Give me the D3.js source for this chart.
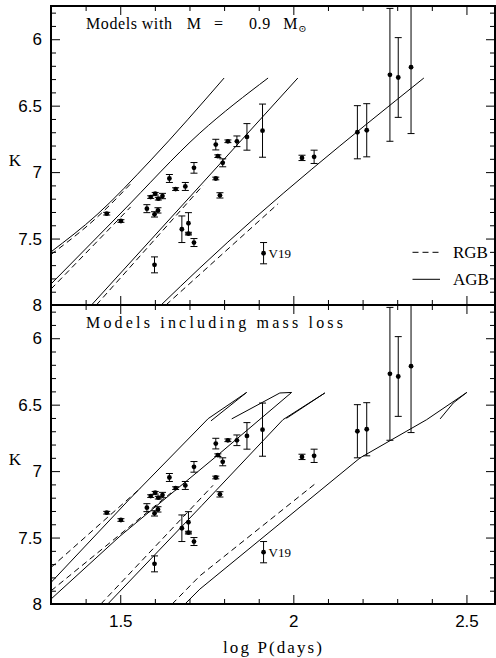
<!DOCTYPE html>
<html>
<head>
<meta charset="utf-8">
<script src="https://d3js.org/d3.v7.min.js"></script>
<style>
  body { margin: 0; background: #fff; }
  .frame { fill: none; stroke: #000; stroke-width: 2; }
  .agb { fill: none; stroke: #000; stroke-width: 1; }
  .rgb { fill: none; stroke: #000; stroke-width: 1; stroke-dasharray: 6,4; }
  .err { stroke: #000; stroke-width: 1; }
  .serif { font-family: "Liberation Serif", "DejaVu Serif", serif; fill: #000; }
</style>
</head>
<body>
<script>
(function(){

  //star data: log P, K and error in K
  var logP = [1.461, 1.502, 1.577, 1.588, 1.601, 1.599, 1.609, 1.610, 1.622, 1.642, 1.660, 1.688,
              1.713, 1.678, 1.697, 1.697, 1.713, 1.599, 1.776, 1.811, 1.837, 1.782, 1.796, 1.776,
              1.788, 1.866, 1.911, 2.025, 2.060, 2.185, 2.212, 2.279, 2.303, 2.340, 1.914];
  var kMag = [7.313, 7.368, 7.275, 7.188, 7.163, 7.318, 7.288, 7.200, 7.180, 7.048, 7.128, 7.108,
              6.968, 7.430, 7.385, 7.463, 7.530, 7.698, 6.793, 6.768, 6.768, 6.880, 6.930, 7.048,
              7.175, 6.735, 6.688, 6.893, 6.885, 6.700, 6.685, 6.268, 6.288, 6.210, 7.610];
  var kErr = [0.01, 0.01, 0.03, 0.01, 0.01, 0.02, 0.02, 0.01, 0.02, 0.03, 0.01, 0.03,
              0.04, 0.10, 0.08, 0.01, 0.03, 0.06, 0.04, 0.01, 0.04, 0.01, 0.03, 0.01,
              0.02, 0.10, 0.20, 0.02, 0.05, 0.20, 0.20, 0.50, 0.30, 0.50, 0.08];
  var starNames = {34: "V19"};

  //model tracks, constant mass (top panel)
  var agbTop = [
    [[1.300, 7.600], [1.433, 7.320], [1.589, 6.908], [1.800, 6.292]],
    [[1.300, 7.842], [1.502, 7.308], [1.730, 6.706], [1.927, 6.292]],
    [[1.417, 8.000], [1.730, 7.104], [2.013, 6.292]],
    [[1.618, 8.000], [1.730, 7.721], [2.377, 6.292]]
  ];
  var rgbTop = [
    [[1.300, 7.620], [1.433, 7.340], [1.535, 7.075]],
    [[1.300, 7.880], [1.530, 7.262]],
    [[1.431, 8.000], [1.739, 7.100]],
    [[1.632, 8.000], [1.956, 7.238]]
  ];

  //model tracks with mass loss (bottom panel)
  var agbBottom = [
    [[1.300, 7.838], [1.526, 7.213], [1.754, 6.605], [1.865, 6.408], [1.762, 6.622]],
    [[1.300, 7.963], [1.499, 7.490], [1.781, 6.881], [1.995, 6.408], [1.961, 6.412], [1.822, 6.607]],
    [[1.464, 8.000], [1.736, 7.258], [1.970, 6.613], [2.091, 6.412], [1.980, 6.603]],
    [[1.687, 8.000], [1.730, 7.888], [2.193, 6.900], [2.385, 6.613], [2.501, 6.408], [2.462, 6.487], [2.424, 6.607]]
  ];
  var rgbBottom = [
    [[1.300, 7.725], [1.560, 7.125]],
    [[1.300, 7.901], [1.647, 7.163]],
    [[1.444, 8.000], [1.768, 7.107]],
    [[1.650, 8.000], [1.730, 7.788], [2.067, 7.087]]
  ];

  var xMajor = [1.5, 2, 2.5];
  var yMajor = [6, 6.5, 7, 7.5, 8];
  var panelTitles = ["Models including mass loss"];
  var legendLabels = ["RGB", "AGB"];

  //frame geometry
  var width = 496, height = 658,
      left = 51, right = 495,
      panelHeight = 299,
      panelTops = [6, 305];

  var svg = d3.select("body")
      .append("svg")
      .attr("width", width)
      .attr("height", height);

  var x = d3.scaleLinear()
      .domain([1.3, 2.5825])
      .range([left, right]);

  var xMinor = d3.range(14, 26).map(function(v){ return v / 10; })
      .filter(function(v){ return xMajor.indexOf(v) < 0; });
  var yMinor = d3.range(58, 81).map(function(v){ return v / 10; })
      .filter(function(v){ return yMajor.indexOf(v) < 0; });

  panelTops.forEach(function(top, p){
      var y = d3.scaleLinear()
          .domain([5.75, 8])
          .range([top, top + panelHeight]);

      var g = svg.append("g").attr("class", "panel");

      //clip for marks
      svg.append("clipPath")
          .attr("id", "clip" + p)
          .append("rect")
          .attr("x", left)
          .attr("y", top)
          .attr("width", right - left)
          .attr("height", panelHeight);

      var marks = g.append("g").attr("clip-path", "url(#clip" + p + ")");

      //top tracks are smooth, bottom ones turn back on themselves
      var line = d3.line()
          .curve(p == 0 ? d3.curveMonotoneX : d3.curveLinear)
          .x(function(d){ return x(d[0]); })
          .y(function(d){ return y(d[1]); });

      var agb = p == 0 ? agbTop : agbBottom,
          rgb = p == 0 ? rgbTop : rgbBottom;

      marks.selectAll(".rgb")
          .data(rgb)
          .enter()
          .append("path")
          .attr("class", "rgb")
          .attr("d", line);

      marks.selectAll(".agb")
          .data(agb)
          .enter()
          .append("path")
          .attr("class", "agb")
          .attr("d", line);

      //stars with error bars
      var stars = marks.selectAll(".star")
          .data(logP)
          .enter()
          .append("g")
          .attr("class", "star");

      stars.append("line")
          .attr("class", "err")
          .attr("x1", function(d){ return x(d); })
          .attr("x2", function(d){ return x(d); })
          .attr("y1", function(d, i){ return y(kMag[i] - kErr[i]); })
          .attr("y2", function(d, i){ return y(kMag[i] + kErr[i]); });

      [-1, 1].forEach(function(s){
          stars.append("line")
              .attr("class", "err")
              .attr("x1", function(d){ return x(d) - 3.5; })
              .attr("x2", function(d){ return x(d) + 3.5; })
              .attr("y1", function(d, i){ return y(kMag[i] + s * kErr[i]); })
              .attr("y2", function(d, i){ return y(kMag[i] + s * kErr[i]); });
      });

      stars.append("circle")
          .attr("cx", function(d){ return x(d); })
          .attr("cy", function(d, i){ return y(kMag[i]); })
          .attr("r", 2.4)
          .attr("fill", "#000");

      Object.keys(starNames).forEach(function(i){
          g.append("text")
              .attr("class", "serif")
              .attr("x", x(logP[i]) + 5)
              .attr("y", y(kMag[i]) + 4.5)
              .style("font-size", "13px")
              .text(starNames[i]);
      });

      //axes with inward ticks on all four sides
      function tidy(sel){
          sel.select(".domain").remove();
          sel.selectAll("text")
              .attr("font-family", "'Liberation Sans', Arial, sans-serif")
              .attr("font-size", 17)
              .attr("fill", "#000");
      }

      g.append("g").attr("transform", "translate(" + left + ",0)")
          .call(d3.axisLeft(y).tickValues(yMajor).tickSize(-9).tickPadding(9)
              .tickFormat(function(d){ return d; }))
          .call(tidy);
      g.append("g").attr("transform", "translate(" + left + ",0)")
          .call(d3.axisLeft(y).tickValues(yMinor).tickSize(-5).tickFormat(""))
          .call(tidy);
      g.append("g").attr("transform", "translate(" + right + ",0)")
          .call(d3.axisRight(y).tickValues(yMajor).tickSize(-9).tickFormat(""))
          .call(tidy);
      g.append("g").attr("transform", "translate(" + right + ",0)")
          .call(d3.axisRight(y).tickValues(yMinor).tickSize(-5).tickFormat(""))
          .call(tidy);
      g.append("g").attr("transform", "translate(0," + top + ")")
          .call(d3.axisTop(x).tickValues(xMajor).tickSize(-9).tickFormat(""))
          .call(tidy);
      g.append("g").attr("transform", "translate(0," + top + ")")
          .call(d3.axisTop(x).tickValues(xMinor).tickSize(-5).tickFormat(""))
          .call(tidy);
      g.append("g").attr("transform", "translate(0," + (top + panelHeight) + ")")
          .call(d3.axisBottom(x).tickValues(xMajor).tickSize(-9).tickPadding(11)
              .tickFormat(p == 1 ? function(d){ return d; } : ""))
          .call(tidy);
      g.append("g").attr("transform", "translate(0," + (top + panelHeight) + ")")
          .call(d3.axisBottom(x).tickValues(xMinor).tickSize(-5).tickFormat(""))
          .call(tidy);

      g.append("rect")
          .attr("class", "frame")
          .attr("x", left)
          .attr("y", top)
          .attr("width", right - left)
          .attr("height", panelHeight);

      //K label
      g.append("text")
          .attr("class", "serif")
          .attr("x", 15)
          .attr("y", top + 160)
          .attr("text-anchor", "middle")
          .style("font-size", "17px")
          .text("K");

      //panel titles
      if (p == 0){
          var title = g.append("text")
              .attr("class", "serif")
              .attr("y", top + 23)
              .style("font-size", "16px")
              .style("letter-spacing", "0.6px");
          var words = [["Models", 86], ["with", 141.7], ["M", 186.7], ["=", 214], ["0.9", 249], ["M", 283.3]];
          words.forEach(function(w){
              title.append("tspan").attr("x", w[1]).text(w[0]);
          });
          title.append("tspan")
              .attr("dy", 3)
              .style("font-size", "10px")
              .text("\u2299");

          //legend
          var legend = g.append("g");
          legendLabels.forEach(function(lab, i){
              var ly = top + 246.3 + i * 27;
              legend.append("line")
                  .attr("class", i == 0 ? "rgb" : "agb")
                  .attr("x1", 412.5)
                  .attr("x2", 440)
                  .attr("y1", ly)
                  .attr("y2", ly);
              legend.append("text")
                  .attr("class", "serif")
                  .attr("x", 453)
                  .attr("y", ly + 6)
                  .style("font-size", "17px")
                  .text(lab);
          });
      } else {
          g.append("text")
              .attr("class", "serif")
              .attr("x", 86)
              .attr("y", top + 23)
              .attr("textLength", 257)
              .attr("lengthAdjust", "spacing")
              .style("font-size", "16px")
              .text(panelTitles[0]);
      }
  });

  //x axis title
  svg.append("text")
      .attr("class", "serif")
      .attr("x", 223)
      .attr("y", 653)
      .attr("textLength", 99)
      .attr("lengthAdjust", "spacing")
      .style("font-size", "17px")
      .text("log P(days)");

})();
</script>
</body>
</html>
